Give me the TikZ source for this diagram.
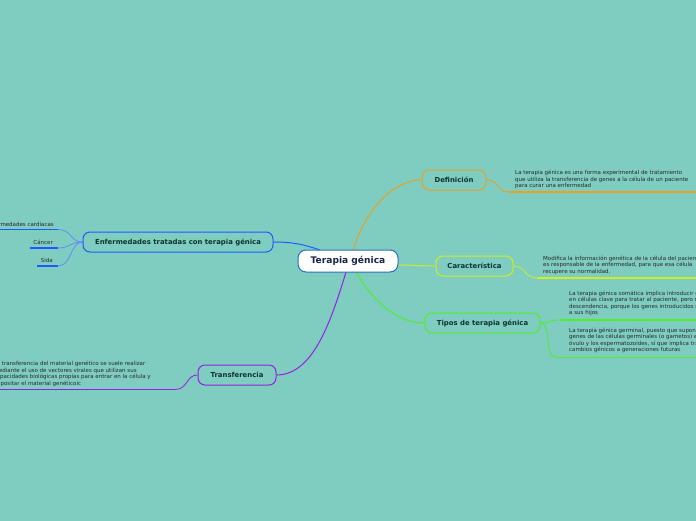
\documentclass[tikz,border=0pt]{standalone}
\usepackage{fontspec}
\setmainfont{DejaVu Sans}
\usetikzlibrary{backgrounds}
\definecolor{bg}{RGB}{126,205,192}
\definecolor{corange}{RGB}{232,160,36}
\definecolor{cyellow}{RGB}{204,238,34}
\definecolor{cgreen}{RGB}{80,238,40}
\definecolor{cpurple}{RGB}{150,30,230}
\definecolor{cblue}{RGB}{30,90,255}
\definecolor{cmain}{RGB}{40,110,190}
\definecolor{boxtext}{RGB}{12,52,48}
\definecolor{maintext}{RGB}{25,35,75}
\definecolor{smalltext}{RGB}{40,40,40}
\tikzset{
  topic/.style={draw, line width=1pt, rounded corners=7pt, fill=bg, text=boxtext,
    font=\fontsize{6.9}{8}\selectfont\bfseries, minimum height=20pt, inner sep=0pt},
  central/.style={draw=cmain, line width=1pt, rounded corners=8pt, fill=white, text=maintext,
    font=\fontsize{9.1}{10}\selectfont\bfseries, minimum height=22pt, minimum width=100pt, inner sep=0pt},
  leaftext/.style={anchor=north west, align=left, inner sep=0pt, text=smalltext,
    font=\fontsize{5.5}{6.6}\selectfont},
  conn/.style={line width=0.8pt},
  branch/.style={line width=1pt},
  uline/.style={line width=1.5pt},
}
\begin{document}
\begin{tikzpicture}[x=1pt,y=-1pt]
\clip (0,0) rectangle (696,520);

\node[central] (main) at (348,261) {Terapia génica};
\node[topic, draw=corange, minimum width=64pt] (def) at (454,180) {Definición};
\node[topic, draw=cyellow, minimum width=77pt] (car) at (474.5,266) {Característica};
\node[topic, draw=cgreen, minimum width=115pt] (tip) at (482.5,323) {Tipos de terapia génica};
\node[topic, draw=cpurple, minimum width=78pt] (tra) at (237,375) {Transferencia};
\node[topic, draw=cblue, minimum width=190pt] (enf) at (178,242) {Enfermedades tratadas con terapia génica};

\coordinate (m1) at (353,250);
\coordinate (m2) at (398,265);
\coordinate (m3) at (356,272);
\coordinate (m4) at (346,272);
\coordinate (m5) at (320,250);

% leaf texts
\node[leaftext] (tdef) at (515,170) {La terapia génica es una forma experimental de tratamiento\\que utiliza la transferencia de genes a la célula de un paciente\\para curar una enfermedad};
\node[leaftext] (tcar) at (543,255.5) {Modifica la información genética de la célula del paciente que\\es responsable de la enfermedad, para que esa célula\\recupere su normalidad.};
\node[leaftext] (ttip1) at (569,290.5) {La terapia génica somática implica introducir genes\\en células clave para tratar al paciente, pero no afecta a su\\descendencia, porque los genes introducidos no se transmiten\\a sus hijos};
\node[leaftext] (ttip2) at (569,327.5) {La terapia génica germinal, puesto que supone introducir\\genes de las células germinales (o gametos) es decir el\\óvulo y los espermatozoides, sí que implica transmitir los\\cambios génicos a generaciones futuras};
\node[leaftext] (ttra) at (-6.5,361) {La transferencia del material genético se suele realizar\\mediante el uso de vectores virales que utilizan sus\\capacidades biológicas propias para entrar en la célula y\\depositar el material genéticoic};
\node[leaftext, anchor=base east] (tcard) at (54,226) {Enfermedades cardíacas};
\node[leaftext, anchor=base east] (tcan) at (53,244) {Cáncer};
\node[leaftext, anchor=base east] (tsid) at (53,262) {Sida};

% underline coordinates
\coordinate (udef1) at (509,192); \coordinate (udef2) at (700,192);
\coordinate (ucar1) at (537,278); \coordinate (ucar2) at (700,278);
\coordinate (utip1) at (560,320); \coordinate (utip2) at (700,320);
\coordinate (utip3) at (556,357.5); \coordinate (utip4) at (700,357.5);
\coordinate (utra1) at (-5,389.5); \coordinate (utra2) at (175,389.5);
\coordinate (ucd1) at (-5,229.5); \coordinate (ucd2) at (58,229.5);
\coordinate (ucn1) at (30,248); \coordinate (ucn2) at (58,248);
\coordinate (usd1) at (37,266); \coordinate (usd2) at (58,266);

\begin{scope}[on background layer]
\fill[bg] (-10,-10) rectangle (710,530);
% main branches
\draw[branch, corange] (m1) .. controls (366,208) and (394,180) .. (def.west);
\draw[branch, cyellow] (m2) .. controls (415,265) and (420,266) .. (car.west);
\draw[branch, cgreen] (m3) .. controls (372,300) and (396,323) .. (tip.west);
\draw[branch, cpurple] (m4) .. controls (330,325) and (312,375) .. (tra.east);
\draw[branch, cblue] (m5) .. controls (302,244) and (292,242) .. (enf.east);

% leaf connectors
\draw[conn, corange] (def.east) .. controls (500,180) and (496,192) .. (udef1);
\draw[conn, cyellow] (car.east) .. controls (526,266) and (524,278) .. (ucar1);
\draw[conn, cgreen] (tip.east) .. controls (550,323) and (548,320) .. (utip1);
\draw[conn, cgreen] (tip.east) .. controls (552,323) and (544,357.5) .. (utip3);
\draw[conn, cpurple] (tra.west) .. controls (186,375) and (188,389.5) .. (utra2);
\draw[conn, cblue!70!white] (enf.west) .. controls (70,242) and (72,229.5) .. (ucd2);
\draw[conn, cblue!70!white] (enf.west) .. controls (70,242) and (70,248) .. (ucn2);
\draw[conn, cblue!70!white] (enf.west) .. controls (70,242) and (72,266) .. (usd2);

% underlines
\draw[uline, corange] (udef1) -- (udef2);
\draw[uline, cyellow] (ucar1) -- (ucar2);
\draw[uline, cgreen] (utip1) -- (utip2);
\draw[uline, cgreen] (utip3) -- (utip4);
\draw[uline, cpurple] (utra1) -- (utra2);
\draw[uline, cblue] (ucd1) -- (ucd2);
\draw[uline, cblue] (ucn1) -- (ucn2);
\draw[uline, cblue] (usd1) -- (usd2);
\end{scope}
\end{tikzpicture}
\end{document}
